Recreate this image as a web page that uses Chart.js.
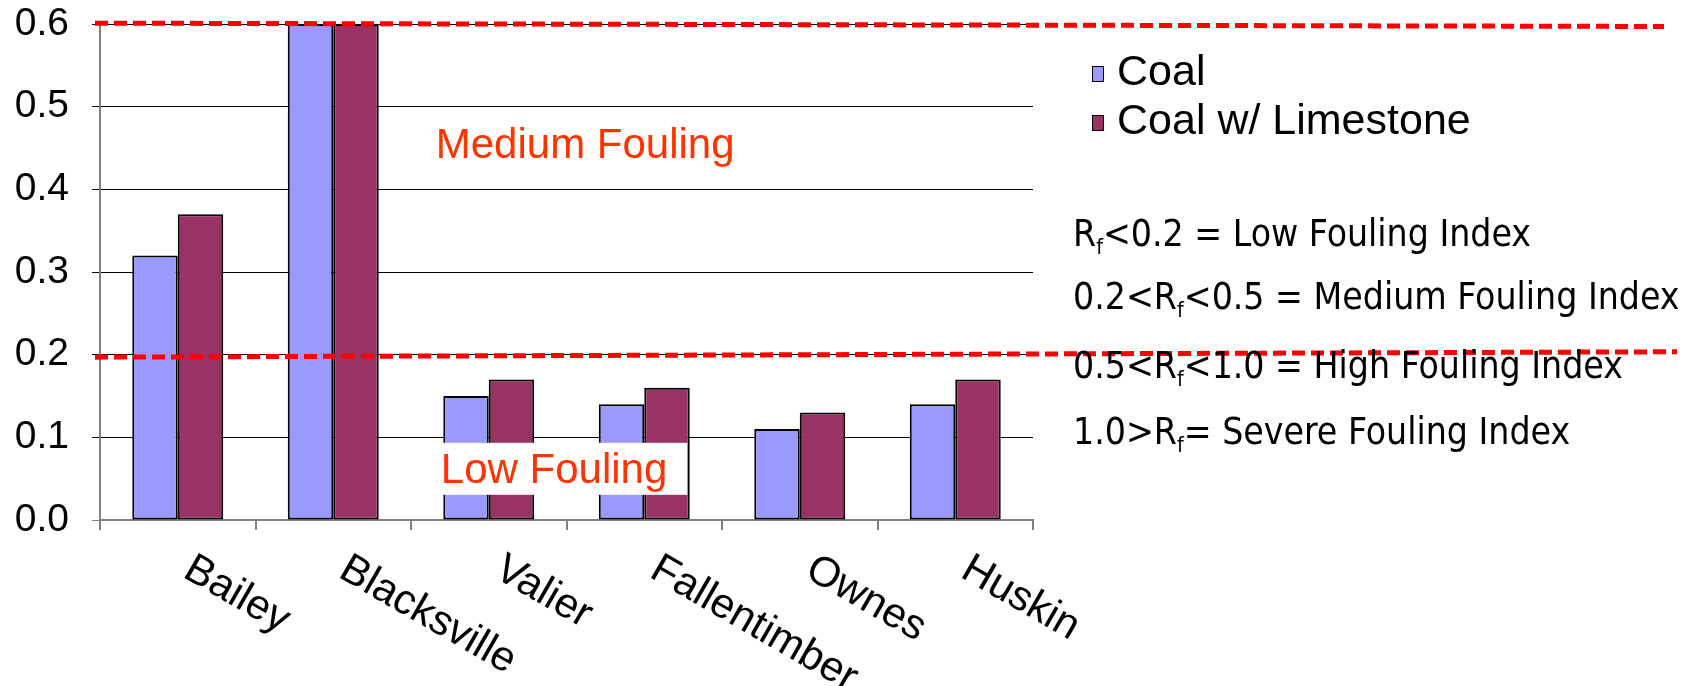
<!DOCTYPE html>
<html>
<head>
<meta charset="utf-8">
<script src="https://cdn.jsdelivr.net/npm/chart.js@4.4.1/dist/chart.umd.min.js"></script>
<style>
    body { margin: 0; background: #fff; }
    #wrap { position: relative; width: 1708px; height: 686px; }
    .note { position: absolute; left: 1073px; font-family: "DejaVu Sans Condensed", "DejaVu Sans", sans-serif; font-size: 37px; color: #000; white-space: nowrap; line-height: 1; }
    .note sub { font-size: 58%; vertical-align: -0.35em; line-height: 0; }
</style>
</head>
<body>
<div id="wrap">
    <canvas id="chart-fouling"></canvas>
</div>
<script>
var categories = ['Bailey', 'Blacksville', 'Valier', 'Fallentimber', 'Ownes', 'Huskin'];
var coal = [0.32, 0.60, 0.15, 0.14, 0.11, 0.14];
var coalLimestone = [0.37, 0.60, 0.17, 0.16, 0.13, 0.17];
var seriesLabels = ['Coal', 'Coal w/ Limestone'];
var seriesColors = ['#9999ff', '#993366'];

// dashed threshold lines, value at left end and right end (slightly tilted in original)
var thresholds = [[0.601, 0.597], [0.197, 0.2035]];
// zone captions: category index, value at baseline
var zoneLabels = [
    { text: 'Medium Fouling', at: 2.62, value: 0.438, box: false },
    { text: 'Low Fouling', at: 2.42, value: 0.045, box: true }
];
var notes = [
    'R<sub>f</sub>&lt;0.2 = Low Fouling Index',
    '0.2&lt;R<sub>f</sub>&lt;0.5 = Medium Fouling Index',
    '0.5&lt;R<sub>f</sub>&lt;1.0 = High Fouling Index',
    '1.0&gt;R<sub>f</sub>= Severe Fouling Index'
];
var noteTops = [215, 278, 347, 413];

var wrap = document.getElementById('wrap');
notes.forEach(function (n, i) {
    var d = document.createElement('div');
    d.className = 'note';
    d.style.top = noteTops[i] + 'px';
    d.innerHTML = n;
    wrap.appendChild(d);
});

var foulingPlugin = {
    id: 'fouling',
    afterDraw: function (chart) {
        var ctx = chart.ctx;
        var x = chart.scales.x, y = chart.scales.y, area = chart.chartArea;
        ctx.save();

        // zone captions
        ctx.font = '42px "Liberation Sans", Arial, sans-serif';
        ctx.textBaseline = 'alphabetic';
        ctx.textAlign = 'center';
        zoneLabels.forEach(function (z) {
            var px = x.getPixelForValue(z.at);
            var py = y.getPixelForValue(z.value);
            if (z.box) {
                var w = ctx.measureText(z.text).width;
                ctx.fillStyle = '#ffffff';
                ctx.fillRect(px - w / 2 + 2, py - 40, w + 18, 52);
            }
            ctx.fillStyle = '#ff3300';
            ctx.fillText(z.text, px, py);
        });

        // dashed threshold lines
        ctx.strokeStyle = '#ff0000';
        ctx.lineWidth = 5;
        ctx.setLineDash([13, 6]);
        thresholds.forEach(function (t, i) {
            ctx.beginPath();
            ctx.moveTo(area.left - 5, y.getPixelForValue(t[0]));
            ctx.lineTo(chart.width - (i === 0 ? 44 : 31), y.getPixelForValue(t[1]));
            ctx.stroke();
        });
        ctx.setLineDash([]);

        // rotated category labels
        ctx.fillStyle = '#000';
        ctx.font = '42px "Liberation Sans", Arial, sans-serif';
        ctx.textAlign = 'left';
        ctx.textBaseline = 'top';
        categories.forEach(function (c, i) {
            ctx.save();
            ctx.translate(x.getPixelForValue(i) + 20, area.bottom + 28);
            ctx.rotate(30 * Math.PI / 180);
            ctx.fillText(c, 0, 0);
            ctx.restore();
        });

        // legend
        ctx.font = '43px "Liberation Sans", Arial, sans-serif';
        ctx.textBaseline = 'middle';
        chart.data.datasets.forEach(function (ds, i) {
            var cy = 73 + i * 49;
            ctx.fillStyle = ds.backgroundColor;
            ctx.fillRect(1092, cy - 7, 11, 15);
            ctx.strokeStyle = '#000';
            ctx.lineWidth = 1;
            ctx.strokeRect(1092.5, cy - 6.5, 11, 15);
            ctx.fillStyle = '#000';
            ctx.fillText(ds.label, 1117, cy);
        });
        ctx.restore();
    }
};

var ctx = document.getElementById('chart-fouling');
new Chart(ctx, {
    type: 'bar',
    data: {
        labels: categories,
        datasets: [{
            label: seriesLabels[0],
            data: coal,
            backgroundColor: seriesColors[0],
            borderColor: '#000',
            borderWidth: 2,
            borderSkipped: false
        }, {
            label: seriesLabels[1],
            data: coalLimestone,
            backgroundColor: seriesColors[1],
            borderColor: '#000',
            borderWidth: 2,
            borderSkipped: false
        }]
    },
    options: {
        responsive: true,
        maintainAspectRatio: false,
        animation: false,
        layout: { padding: { top: 24, right: 675, left: 0, bottom: 0 } },
        plugins: { legend: { display: false }, tooltip: { enabled: false } },
        datasets: { bar: { categoryPercentage: 0.585, barPercentage: 1.0 } },
        scales: {
            x: {
                grid: { drawOnChartArea: false, drawTicks: true, tickLength: 10, color: '#808080', lineWidth: 2 },
                border: { color: '#808080', width: 2 },
                ticks: { display: false },
                afterFit: function (scale) { scale.height = 166; }
            },
            y: {
                min: 0,
                max: 0.6,
                grid: {
                    tickLength: 8,
                    color: function (c) { return c.tick && c.tick.value === 0 ? '#808080' : '#000'; },
                    lineWidth: 1
                },
                border: { color: '#808080', width: 2 },
                ticks: {
                    stepSize: 0.1,
                    padding: 23,
                    color: '#000',
                    font: { family: '"Liberation Sans", Arial, sans-serif', size: 39 },
                    callback: function (v) { return v.toFixed(1); }
                },
                afterFit: function (scale) {
                    scale.width = 100;
                    scale.paddingTop = 0;
                    scale.paddingBottom = 0;
                }
            }
        }
    },
    plugins: [foulingPlugin]
});
</script>
</body>
</html>
